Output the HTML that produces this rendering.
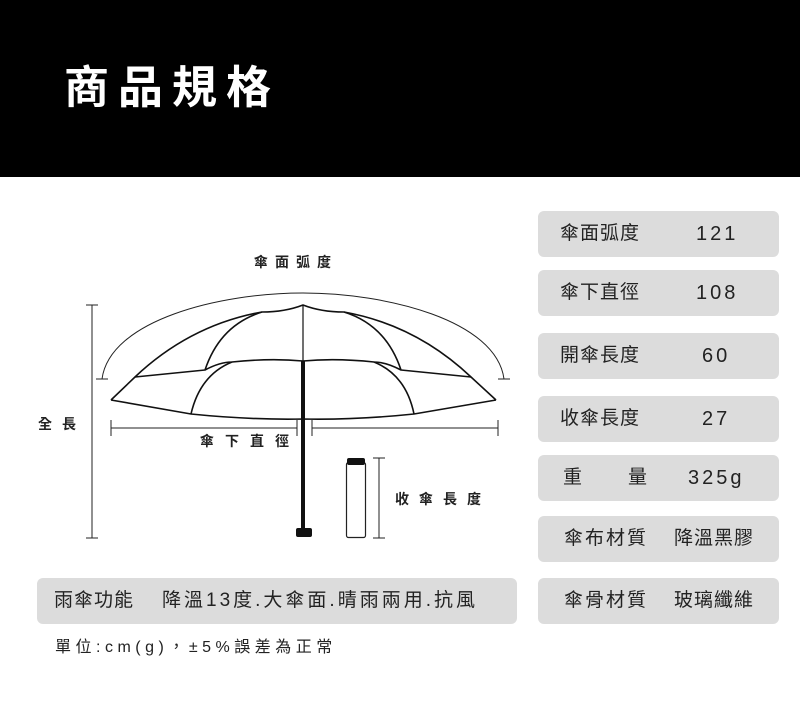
<!DOCTYPE html>
<html><head><meta charset="utf-8"><style>
*{margin:0;padding:0;box-sizing:border-box}
body{width:800px;height:709px;background:#fff;position:relative;overflow:hidden;font-family:"Liberation Sans","Noto Sans CJK TC",sans-serif;color:#222}
.hdr{position:absolute;left:0;top:0;width:800px;height:177px;background:#000}
.title{position:absolute;left:64px;top:60px;color:#fff;font-size:45px;font-weight:bold;letter-spacing:9px;line-height:56px}
.box{position:absolute;left:538px;width:241px;height:46px;background:#dcdcdc;border-radius:6px;font-size:19px;line-height:46px;color:#222}
.box span{position:absolute}
.t{position:absolute;font-size:14px;font-weight:bold;letter-spacing:7px;color:#222;line-height:16px}
</style></head><body>
<div class="hdr"></div>
<div class="title">商品規格</div>

<svg style="position:absolute;left:0;top:0" width="800" height="709">
<g fill="none" stroke="#222" stroke-width="1">
<path d="M102,379 C110,320 220,293 303,293 C386,293 496,320 504,379"/>
<path d="M96,379 H108 M498,379 H510"/>
<path d="M92,305 V538 M86,305 H98 M86,538 H98"/>
<path d="M111,428 H297 M111,420 V436 M297,420 V436 M312,428 H498 M312,420 V436 M498,420 V436"/>
<path d="M379,458 V538 M373,458 H385 M373,538 H385"/>
</g>
<g fill="none" stroke="#111" stroke-width="1.6" stroke-linejoin="round">
<path d="M111,400 L191,414 Q250,420 303,419 Q356,420 414,414 L496,400"/>
<path d="M111,400 L135,377 Q190,325 262,312 Q285,312 303,305 Q321,312 344,312 Q416,325 471,377 L496,400"/>
<path d="M135,377 L205,370 Q220,362 232,362 Q270,358 303,361 Q336,358 374,362 Q386,362 401,370 L471,377"/>
<path d="M205,370 Q220,325 262,312 M401,370 Q386,325 344,312"/>
<path d="M191,414 Q200,375 232,362 M414,414 Q406,375 374,362"/>
</g>
<path d="M303,305 V361" stroke="#111" stroke-width="1.2"/>
<path d="M303,361 V530" stroke="#111" stroke-width="4"/>
<rect x="296" y="528" width="16" height="9" rx="2" fill="#111"/>
<rect x="346.5" y="462.5" width="19" height="75" rx="2" fill="#fff" stroke="#222" stroke-width="1.2"/>
<rect x="347" y="458" width="18" height="7" rx="2" fill="#111"/>
</svg>

<div class="t" style="left:254px;top:254px">傘面弧度</div>
<div class="t" style="left:200px;top:433px;letter-spacing:11px">傘下直徑</div>
<div class="t" style="left:395px;top:491px;letter-spacing:10px">收傘長度</div>
<div class="t" style="left:38px;top:416px;letter-spacing:10px">全長</div>

<div class="box" style="top:211px"><span style="left:22px;letter-spacing:1px">傘面弧度</span><span style="left:158px;letter-spacing:3px;font-size:20px">121</span></div>
<div class="box" style="top:270px"><span style="left:22px;letter-spacing:1px">傘下直徑</span><span style="left:158px;letter-spacing:3px;font-size:20px">108</span></div>
<div class="box" style="top:333px"><span style="left:22px;letter-spacing:1px">開傘長度</span><span style="left:164px;letter-spacing:3px;font-size:20px">60</span></div>
<div class="box" style="top:396px"><span style="left:22px;letter-spacing:1px">收傘長度</span><span style="left:164px;letter-spacing:3px;font-size:20px">27</span></div>
<div class="box" style="top:455px"><span style="left:25px">重</span><span style="left:90px">量</span><span style="left:150px;letter-spacing:3px;font-size:20px">325g</span></div>
<div class="box" style="top:516px"><span style="left:26px;letter-spacing:2px">傘布材質</span><span style="left:136px;letter-spacing:1px">降溫黑膠</span></div>
<div class="box" style="top:578px"><span style="left:26px;letter-spacing:2px">傘骨材質</span><span style="left:136px;letter-spacing:1px">玻璃纖維</span></div>

<div class="box" style="left:37px;width:480px;top:578px"><span style="left:17px;letter-spacing:1px">雨傘功能</span><span style="left:125px;letter-spacing:3px">降溫13度.大傘面.晴雨兩用.抗風</span></div>
<div style="position:absolute;left:55px;top:638px;font-size:16px;letter-spacing:4.5px;line-height:20px">單位:cm(g)，±5%誤差為正常</div>
</body></html>
